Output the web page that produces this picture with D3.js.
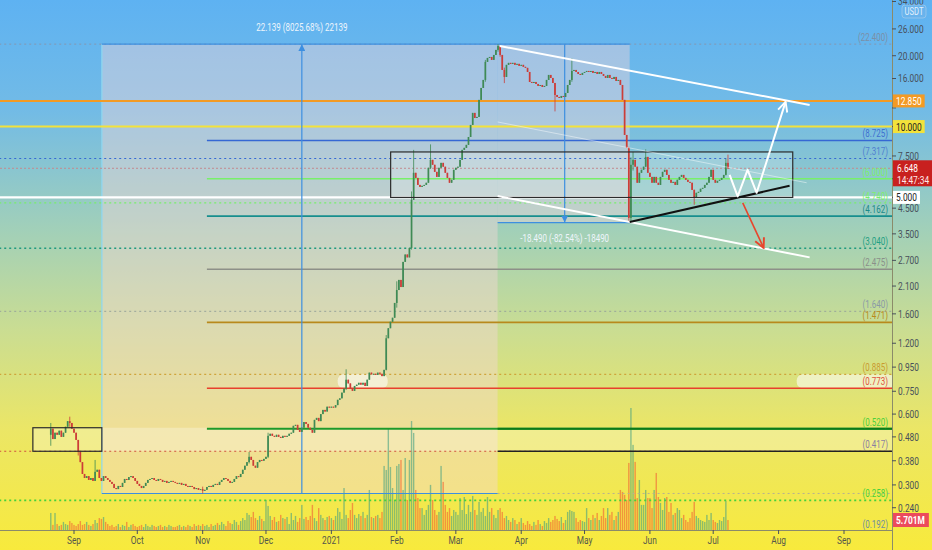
<!DOCTYPE html>
<html>
<head>
<meta charset="utf-8">
<script src="https://cdn.jsdelivr.net/npm/d3@7"></script>
<style>
  body { margin: 0; overflow: hidden; }
  svg { display: block; font-family: Roboto, "Liberation Sans", sans-serif; }
</style>
</head>
<body>
<svg></svg>
<script>
var width = 932, height = 550;
var plotRight = 892, plotBottom = 530;

// daily candles start on this day, open of the next candle = previous close
var startDay = new Date(2020, 7, 21);
var firstOpen = 0.49;
var closes = [
  // Aug 2020
  0.52,0.47,0.50,0.49,0.51,0.48,0.50,0.53,0.56,0.55,0.52,
  // Sep
  0.50,0.466,0.414,0.375,0.334,0.321,0.327,0.315,0.321,0.312,0.341,0.348,0.321,0.312,0.327,
  0.321,0.315,0.309,0.303,0.291,0.288,0.297,0.294,0.306,0.318,0.315,0.324,0.327,0.321,0.312,
  // Oct
  0.303,0.297,0.291,0.297,0.306,0.315,0.318,0.321,0.315,0.312,0.318,0.315,0.309,0.312,0.306,0.309,
  0.312,0.309,0.306,0.303,0.306,0.300,0.303,0.297,0.294,0.297,0.294,0.288,0.291,0.286,0.288,
  // Nov
  0.283,0.286,0.294,0.297,0.294,0.300,0.303,0.300,0.309,0.315,0.321,0.318,0.312,0.306,0.309,
  0.318,0.327,0.324,0.334,0.348,0.362,0.375,0.395,0.383,0.362,0.355,0.375,0.383,0.380,0.387,
  // Dec
  0.395,0.485,0.495,0.485,0.480,0.490,0.480,0.475,0.485,0.480,0.485,0.495,0.500,0.535,0.540,0.514,
  0.504,0.525,0.555,0.545,0.525,0.514,0.500,0.567,0.578,0.560,0.600,0.625,0.615,0.645,0.640,
  // Jan 2021
  0.645,0.640,0.655,0.690,0.700,0.740,0.770,0.840,0.810,0.770,0.753,0.790,0.800,0.815,0.800,0.815,
  0.790,0.840,0.900,0.885,0.890,0.880,0.900,0.890,0.870,0.925,1.26,1.39,1.48,1.54,1.78,
  // Feb
  2.02,2.23,2.08,2.66,2.86,2.78,3.05,4.88,6.36,6.05,5.65,5.54,5.60,5.65,5.77,6.68,7.22,6.88,6.42,
  6.11,6.68,7.01,6.75,6.36,6.05,5.77,5.94,6.55,
  // Mar
  6.68,6.75,7.22,7.96,8.12,8.36,9.03,10.16,11.43,10.88,10.99,12.98,14.59,15.78,18.83,19.57,19.76,
  19.20,20.15,21.17,22.00,20.15,17.40,16.25,18.29,18.65,18.47,18.65,18.29,18.47,18.11,
  // Apr
  18.29,17.94,17.76,17.06,15.47,15.32,15.47,15.17,14.88,15.02,14.73,14.88,15.78,16.57,16.09,15.32,
  13.62,13.36,13.23,13.49,13.36,13.89,15.02,15.78,17.23,17.40,17.06,16.73,16.57,16.90,
  // May
  17.06,17.23,17.06,17.23,16.90,17.06,16.73,17.06,16.73,16.41,16.09,16.57,16.09,15.93,16.25,15.62,
  15.78,15.02,12.98,9.21,8.12,4.09,6.88,7.22,6.75,5.77,6.36,6.55,6.75,7.43,6.36,
  // Jun
  6.11,5.77,6.11,5.77,5.65,6.11,6.42,6.55,6.23,5.94,5.77,5.82,5.65,5.94,6.11,6.23,6.05,5.94,5.82,
  5.77,5.38,4.97,5.23,5.28,5.44,5.49,5.65,5.77,6.11,6.55,
  // Jul
  5.94,5.77,5.88,5.94,6.05,6.23,7.01,6.648
];

// visible wicks: [day index, high, low]
var wicks = [
  [0,0.55,0.44],[9,0.585,0.53],[13,0.45,0.40],[21,0.383,0.33],[72,0.295,0.2759],[94,0.414,0.37],
  [103,0.50,0.39],[140,0.93,0.76],[159,1.30,0.92],[164,2.2,1.7],[171,5.3,3.0],[172,7.96,4.9],
  [180,8.4,6.6],[206,19.2,15.5],[212,22.4,20.8],[213,21.8,19.8],[215,17.8,15.3],[239,15.3,11.6],
  [247,19.5,15.5],[274,8.2,3.91],[275,7.4,3.95],[276,7.8,6.5],[282,8.0,6.9],[305,5.4,4.65],
  [320,7.3,6.2],[321,7.6,6.6]
];

// volume in millions
var volumes = [
  9.7,2.9,9.7,3.4,2.3,2.9,4.6,3.4,2.9,5.1,4.0,
  2.9,2.3,3.4,5.1,2.9,3.4,4.6,2.9,2.3,3.4,5.7,4.0,6.8,6.3,7.4,4.6,3.4,2.3,2.9,1.7,2.3,3.4,1.7,2.9,
  2.3,4.6,1.7,2.9,3.4,2.3,
  1.7,2.3,2.9,1.7,3.4,2.3,1.7,2.9,2.3,1.7,2.3,2.9,1.7,2.3,1.7,2.9,2.3,1.7,1.7,2.3,2.9,1.7,2.3,1.7,
  2.9,2.3,1.7,3.4,2.3,2.9,2.3,
  3.4,2.3,2.9,1.7,3.4,2.3,2.9,4.0,2.9,4.6,3.4,2.3,5.1,4.0,3.4,5.7,4.6,2.9,5.1,6.8,5.7,9.7,8.6,7.4,
  10.3,6.8,5.7,8.0,6.3,5.1,
  17.1,13.7,8.0,5.7,7.4,4.6,5.1,8.6,6.8,6.3,7.4,3.4,9.7,5.7,8.0,4.6,6.8,14.3,6.3,7.4,5.7,8.0,14.3,
  6.8,5.1,12.5,8.6,6.8,5.7,7.4,8.0,
  6.8,5.7,8.0,12.5,10.3,6.3,23.9,8.6,6.8,11.4,15.4,8.6,6.8,9.1,8.0,10.3,6.8,8.6,22.8,7.4,6.8,8.0,
  8.6,6.8,10.3,36.5,34.2,57.6,35.9,23.9,17.1,
  36.5,37.6,39.9,22.8,41.0,17.1,39.9,62.1,55.3,22.8,18.2,12.5,12.5,8.6,11.4,14.3,25.7,17.1,11.4,
  8.6,10.3,36.5,27.4,14.3,10.3,12.5,8.0,11.4,
  10.3,8.6,18.2,11.4,18.8,9.1,14.3,10.3,19.4,11.4,8.6,16.0,10.3,12.5,8.0,18.8,10.3,12.5,8.6,6.8,
  11.4,12.5,10.3,6.8,8.0,5.7,4.6,6.8,5.7,3.4,4.6,
  6.8,4.0,2.9,5.1,3.4,2.3,4.6,2.9,5.7,3.4,2.3,5.1,4.0,6.8,4.6,5.7,8.0,6.3,5.1,7.4,4.0,5.7,10.3,
  11.4,10.8,10.3,6.8,4.6,5.7,5.1,
  4.6,12.5,6.8,5.7,8.6,6.8,9.7,5.7,8.0,12.5,6.8,12.5,8.6,10.3,5.7,8.0,10.3,22.8,21.7,20.0,17.1,
  38.2,69.5,48.5,38.8,18.2,28.5,14.3,14.3,22.8,18.2,
  18.2,12.5,22.8,32.5,18.8,15.4,11.4,18.2,18.8,10.3,15.4,8.6,9.7,12.5,11.4,6.8,8.6,5.7,4.6,6.8,
  10.3,16.0,8.0,6.8,5.7,5.1,4.6,8.6,5.7,9.7,
  5.7,4.6,4.0,5.7,5.1,7.4,16.5,5.701
];

var monthLabels = ["Sep","Oct","Nov","Dec","2021","Feb","Mar","Apr","May","Jun","Jul","Aug","Sep"];
// labels hidden behind the price badges (12, 10, 6, 5) only get a tick mark
var priceTicks = [34, 26, 20, 16, 7.5, 4.5, 3.5, 2.7, 2.1, 1.6, 1.2, 0.95, 0.75, 0.6, 0.48, 0.38, 0.3, 0.24];
var hiddenTicks = [12, 10, 6, 5];

var fibLevels = [22.4, 8.725, 7.317, 6.0, 4.74, 4.162, 3.04, 2.475, 1.64, 1.471, 0.885, 0.773, 0.52, 0.417, 0.258, 0.192];
var fibLabels = ["(22.400)","(8.725)","(7.317)","(6.000)","(4.740)","(4.162)","(3.040)","(2.475)",
                 "(1.640)","(1.471)","(0.885)","(0.773)","(0.520)","(0.417)","(0.258)","(0.192)"];

var badgeValues = [12.85, 10.0, 5.0];
var badgeLabels = ["12.850", "10.000", "5.000"];
var lastPrice = 6.648, lastTime = "14:47:34";
var lastVolumeLabel = "5.701M";

// drawings, in day index / price
var rangeUpDays = [24.2, 119, 211.8], rangeUpPrices = [0.2759, 22.4];
var rangeUpText = "22.139 (8025.68%) 22139";
var rangeDownDays = [211.8, 243.6, 274.4], rangeDownPrices = [22.4, 3.91];
var rangeDownText = "-18.490 (-82.54%) -18490";
var boxDays = [161.1, 351.7], boxPrices = [7.8, 5.0];
var baseBoxDays = [-8.5, 24.2], basePrices = [0.525, 0.417];
var highlightDays = [[136, 159.7], [353.6, 400]], highlightPrices = [0.885, 0.773];
var channelUpper = [[212.8, 22.0], [359.7, 12.36]];
var channelLower = [[211.8, 5.07], [359.7, 2.78]];
var channelMid = [[211.8, 10.46], [358.3, 5.77]];
var supportLine = [[274.4, 3.93], [350.2, 5.6]];
var bullPath = [[321.8, 6.23], [325.6, 5.05], [330.3, 6.55], [334.6, 5.23], [348.3, 12.73]];
var bearPath = [[328, 4.74], [337.9, 3.05]];

/////////////
// scales
/////////////
var x = d3.scaleTime()
    .domain([new Date(2020, 8, 1), new Date(2021, 8, 1)])
    .range([74, 844]);
var y = d3.scaleLog()
    .domain([0.193, 34.5])
    .range([plotBottom, 0]);
var yVol = d3.scaleLinear()
    .domain([0, 69.5])
    .range([plotBottom, 408]);

function dayDate(i) { return new Date(startDay.getTime() + i * 864e5); }
function dx(i) { return x(dayDate(i)); }
function pt(p) { return [dx(p[0]), y(p[1])]; }

var candles = closes.map(function(c, i) {
  var o = i === 0 ? firstOpen : closes[i - 1];
  return {i: i, o: o, c: c, h: Math.max(o, c), l: Math.min(o, c), v: volumes[i]};
});
wicks.forEach(function(w) {
  candles[w[0]].h = Math.max(candles[w[0]].h, w[1]);
  candles[w[0]].l = Math.min(candles[w[0]].l, w[2]);
});

var svg = d3.select("svg")
    .attr("width", width)
    .attr("height", height);

// the chart's font is a narrow one, so text is squeezed horizontally
var squeeze = 0.76;
function label(parent, px, py, str, size, fill, anchor) {
  return parent.append("text")
      .attr("transform", "translate(" + px + "," + py + ") scale(" + squeeze + ",1)")
      .attr("text-anchor", anchor || "start")
      .attr("font-size", size)
      .attr("fill", fill)
      .text(str);
}

var defs = svg.append("defs");
var grad = defs.append("linearGradient")
    .attr("id", "bg").attr("x1", 0).attr("y1", 0).attr("x2", 0).attr("y2", 1);
[[0, "#5eb2f2"], [0.2, "#72bbe6"], [0.42, "#a2d0b8"], [0.6, "#cadd92"], [0.78, "#ebe666"], [1, "#f8ea3c"]]
  .forEach(function(s) { grad.append("stop").attr("offset", s[0]).attr("stop-color", s[1]); });

defs.append("clipPath").attr("id", "plot")
  .append("rect").attr("x", 0).attr("y", 0).attr("width", plotRight).attr("height", plotBottom);

function addArrow(id, color, filled) {
  defs.append("marker")
      .attr("id", id)
      .attr("viewBox", "0 0 10 10")
      .attr("refX", filled ? 10 : 9).attr("refY", 5)
      .attr("markerWidth", filled ? 7 : 12).attr("markerHeight", filled ? 7 : 12)
      .attr("markerUnits", "userSpaceOnUse")
      .attr("orient", "auto")
    .append("path")
      .attr("d", filled ? "M0,0 L10,5 L0,10 Z" : "M1,1 L9,5 L1,9")
      .attr("fill", filled ? color : "none")
      .attr("stroke", color)
      .attr("stroke-width", filled ? 0 : 1.6);
}
addArrow("arrWhite", "#ffffff", false);
addArrow("arrRed", "#e8452c", false);
addArrow("arrBlue", "#3d8fe0", true);

svg.append("rect").attr("width", width).attr("height", height).attr("fill", "url(#bg)");

var plot = svg.append("g").attr("clip-path", "url(#plot)");

/////////////
// shaded zones
/////////////
var rangeFill = "rgba(245,214,216,0.42)";
plot.append("rect")
    .attr("x", dx(rangeUpDays[0])).attr("y", y(rangeUpPrices[1]))
    .attr("width", dx(rangeUpDays[2]) - dx(rangeUpDays[0]))
    .attr("height", y(rangeUpPrices[0]) - y(rangeUpPrices[1]))
    .attr("fill", rangeFill);
plot.append("rect")
    .attr("x", dx(rangeDownDays[0])).attr("y", y(rangeDownPrices[0]))
    .attr("width", dx(rangeDownDays[2]) - dx(rangeDownDays[0]))
    .attr("height", y(rangeDownPrices[1]) - y(rangeDownPrices[0]))
    .attr("fill", rangeFill);
plot.append("line")
    .attr("x1", dx(rangeUpDays[0])).attr("x2", dx(rangeUpDays[0]))
    .attr("y1", y(rangeUpPrices[1])).attr("y2", y(rangeUpPrices[0]))
    .attr("stroke", "rgba(140,215,240,0.8)").attr("stroke-width", 1.5);

// base zone band
plot.append("rect")
    .attr("x", dx(baseBoxDays[0])).attr("y", y(basePrices[0]))
    .attr("width", plotRight - dx(baseBoxDays[0]))
    .attr("height", y(basePrices[1]) - y(basePrices[0]))
    .attr("fill", "rgba(255,255,255,0.28)");

highlightDays.forEach(function(d) {
  plot.append("rect")
      .attr("x", dx(d[0])).attr("y", y(highlightPrices[0]))
      .attr("width", dx(d[1]) - dx(d[0]))
      .attr("height", y(highlightPrices[1]) - y(highlightPrices[0]))
      .attr("rx", 6)
      .attr("fill", "rgba(255,255,255,0.55)");
});

// consolidation box fill
plot.append("rect")
    .attr("x", dx(boxDays[0])).attr("y", y(boxPrices[0]))
    .attr("width", dx(boxDays[1]) - dx(boxDays[0]))
    .attr("height", y(boxPrices[1]) - y(boxPrices[0]))
    .attr("fill", "rgba(255,255,255,0.2)");

/////////////
// volume
/////////////
plot.selectAll("rect.vol")
    .data(candles)
    .enter().append("rect")
    .attr("class", "vol")
    .attr("x", function(d) { return dx(d.i) - 0.7; })
    .attr("y", function(d) { return yVol(d.v); })
    .attr("width", 1.4)
    .attr("height", function(d) { return plotBottom - yVol(d.v); })
    .attr("fill", function(d) { return d.c >= d.o ? "rgba(70,160,130,0.6)" : "rgba(240,105,55,0.65)"; });

/////////////
// horizontal levels
/////////////
var fibStyles = [
  {c: "#8597b0", d: "2,3", w: 1, from: -60},
  {c: "#3568d4", w: 1.6, from: 74},
  {c: "#3568d4", d: "2,3", w: 1.2, from: -60},
  {c: "#78f06a", w: 1.6, from: 74},
  {c: "#78f06a", d: "2,3", w: 1.4, from: -60},
  {c: "#168e8e", w: 1.6, from: 74},
  {c: "#1f9a80", d: "2,3", w: 1.4, from: -60},
  {c: "#8d9088", w: 1.6, from: 74},
  {c: "#98a49a", d: "2,3", w: 1, from: -60},
  {c: "#b8891c", w: 1.8, from: 74},
  {c: "#cfa43a", d: "2,3", w: 1.2, from: -60},
  {c: "#e8402c", w: 1.6, from: 74},
  {c: "#1f9a2a", w: 2, from: 74},
  {c: "#d0503f", d: "2,3", w: 1.2, from: -60},
  {c: "#46d23a", d: "2,3", w: 1.6, from: -60},
  {c: "#6f8fa0", w: 0, from: -60}
];
var labelColors = ["#7b8fa8","#3f6fd0","#4f7fd0","#7cf06a","#7cf06a","#1a8a8a","#22a083","#8a8f8a",
                   "#8a9aa6","#b8891c","#c99a30","#e0503a","#4ccf3c","#8a80a0","#46d23a","#6f8fa0"];

fibLevels.forEach(function(v, k) {
  var s = fibStyles[k];
  if (s.w > 0) {
    plot.append("line")
        .attr("x1", dx(s.from)).attr("x2", plotRight)
        .attr("y1", y(v)).attr("y2", y(v))
        .attr("stroke", s.c).attr("stroke-width", s.w)
        .attr("stroke-dasharray", s.d || null);
  }
});

// dark edges of the base zone after the top
plot.append("line")
    .attr("x1", dx(rangeUpDays[2])).attr("x2", plotRight)
    .attr("y1", y(0.417)).attr("y2", y(0.417))
    .attr("stroke", "#222").attr("stroke-width", 1.4);
plot.append("line")
    .attr("x1", dx(rangeUpDays[2])).attr("x2", plotRight)
    .attr("y1", y(0.52)).attr("y2", y(0.52))
    .attr("stroke", "#0c7a18").attr("stroke-width", 2);

// measured low extension
plot.append("line")
    .attr("x1", dx(rangeUpDays[2])).attr("x2", plotRight)
    .attr("y1", y(rangeUpPrices[0])).attr("y2", y(rangeUpPrices[0]))
    .attr("stroke", "#b8b090").attr("stroke-width", 1).attr("stroke-dasharray", "2,3");

[[12.85, "#f39a24", 2], [10.0, "#f3e23a", 2], [5.0, "#ffffff", 2.2]].forEach(function(l) {
  plot.append("line")
      .attr("x1", 0).attr("x2", plotRight)
      .attr("y1", y(l[0])).attr("y2", y(l[0]))
      .attr("stroke", l[1]).attr("stroke-width", l[2]);
});

// last price line
plot.append("line")
    .attr("x1", 0).attr("x2", plotRight)
    .attr("y1", y(lastPrice)).attr("y2", y(lastPrice))
    .attr("stroke", "#c28a90").attr("stroke-width", 1).attr("stroke-dasharray", "2,2");

/////////////
// price range tools
/////////////
var blue = "#3d8fe0";
function hline(d0, d1, p) {
  plot.append("line").attr("x1", dx(d0)).attr("x2", dx(d1)).attr("y1", y(p)).attr("y2", y(p))
      .attr("stroke", blue).attr("stroke-width", 1.2);
}
hline(rangeUpDays[0], rangeDownDays[2], rangeUpPrices[1]);
hline(rangeUpDays[0], rangeUpDays[2], rangeUpPrices[0]);
hline(rangeDownDays[0], rangeDownDays[2], rangeDownPrices[1]);
plot.append("line")
    .attr("x1", dx(rangeUpDays[1])).attr("x2", dx(rangeUpDays[1]))
    .attr("y1", y(rangeUpPrices[0])).attr("y2", y(rangeUpPrices[1]))
    .attr("stroke", blue).attr("stroke-width", 1.2).attr("marker-end", "url(#arrBlue)");
plot.append("line")
    .attr("x1", dx(rangeDownDays[1])).attr("x2", dx(rangeDownDays[1]))
    .attr("y1", y(rangeDownPrices[0])).attr("y2", y(rangeDownPrices[1]))
    .attr("stroke", blue).attr("stroke-width", 1.2).attr("marker-end", "url(#arrBlue)");

label(svg, dx(rangeUpDays[1]), y(rangeUpPrices[1]) - 13, rangeUpText, 10.5, "#eef5fc", "middle");
label(svg, dx(rangeDownDays[1]), y(rangeDownPrices[1]) + 19, rangeDownText, 10.5, "#eef5fc", "middle");

/////////////
// candles
/////////////
var up = "#3f8a55", down = "#cc3d38";
var cg = plot.selectAll("g.candle")
    .data(candles)
    .enter().append("g")
    .attr("class", "candle");
cg.append("line")
    .attr("x1", function(d) { return dx(d.i); })
    .attr("x2", function(d) { return dx(d.i); })
    .attr("y1", function(d) { return y(d.h); })
    .attr("y2", function(d) { return y(d.l); })
    .attr("stroke", function(d) { return d.c >= d.o ? up : down; })
    .attr("stroke-width", 0.8);
cg.append("rect")
    .attr("x", function(d) { return dx(d.i) - 0.85; })
    .attr("y", function(d) { return y(Math.max(d.o, d.c)); })
    .attr("width", 1.7)
    .attr("height", function(d) { return Math.max(1, y(Math.min(d.o, d.c)) - y(Math.max(d.o, d.c))); })
    .attr("fill", function(d) { return d.c >= d.o ? up : down; });

/////////////
// boxes and pattern lines
/////////////
plot.append("rect")
    .attr("x", dx(boxDays[0])).attr("y", y(boxPrices[0]))
    .attr("width", dx(boxDays[1]) - dx(boxDays[0]))
    .attr("height", y(boxPrices[1]) - y(boxPrices[0]))
    .attr("fill", "none").attr("stroke", "#2b2b2b").attr("stroke-width", 1.2);
plot.append("rect")
    .attr("x", dx(baseBoxDays[0])).attr("y", y(basePrices[0]))
    .attr("width", dx(baseBoxDays[1]) - dx(baseBoxDays[0]))
    .attr("height", y(basePrices[1]) - y(basePrices[0]))
    .attr("fill", "none").attr("stroke", "#2b2b2b").attr("stroke-width", 1.2);

var line = d3.line();
function drawPath(points, color, w, opacity, marker) {
  plot.append("path")
      .attr("d", line(points.map(pt)))
      .attr("fill", "none")
      .attr("stroke", color)
      .attr("stroke-width", w)
      .attr("stroke-opacity", opacity)
      .attr("stroke-linejoin", "round")
      .attr("marker-end", marker ? "url(#" + marker + ")" : null);
}
drawPath(channelMid, "#ffffff", 1, 0.45);
drawPath(channelUpper, "#ffffff", 2, 1);
drawPath(channelLower, "#ffffff", 2, 1);
drawPath(supportLine, "#111111", 2, 1);
drawPath(bullPath, "#ffffff", 2, 1, "arrWhite");
drawPath(bearPath, "#e8452c", 1.6, 1, "arrRed");

/////////////
// level labels
/////////////
fibLevels.forEach(function(v, k) {
  label(svg, 888, y(v) - 3, fibLabels[k], 10.5, labelColors[k], "end");
});

/////////////
// axes
/////////////
var axisColor = "#8b8b6a", textColor = "#48505a";
svg.append("line")
    .attr("x1", plotRight + 0.5).attr("x2", plotRight + 0.5).attr("y1", 0).attr("y2", height)
    .attr("stroke", axisColor).attr("stroke-width", 1);
svg.append("line")
    .attr("x1", 0).attr("x2", plotRight).attr("y1", plotBottom + 0.5).attr("y2", plotBottom + 0.5)
    .attr("stroke", axisColor).attr("stroke-width", 1);

var yAxis = svg.append("g");
priceTicks.concat(hiddenTicks).forEach(function(v) {
  yAxis.append("line")
      .attr("x1", plotRight).attr("x2", plotRight + 4)
      .attr("y1", y(v)).attr("y2", y(v))
      .attr("stroke", textColor);
});
priceTicks.forEach(function(v) {
  label(yAxis, plotRight + 6, y(v) + 3.8, d3.format(".3f")(v), 11, textColor);
});

var months = d3.timeMonth.range(new Date(2020, 8, 1), new Date(2021, 8, 2));
months.forEach(function(m, k) {
  svg.append("line")
      .attr("x1", x(m)).attr("x2", x(m)).attr("y1", plotBottom).attr("y2", plotBottom + 4)
      .attr("stroke", textColor);
  label(svg, x(m), plotBottom + 14, monthLabels[k], 11, "#55574a", "middle");
});

// price badges on the axis
function badge(py, h, fill) {
  return svg.append("rect")
      .attr("x", plotRight + 1).attr("y", py - h / 2)
      .attr("height", h)
      .attr("fill", fill);
}
var badgeFill = ["#f39a24", "#f3e23a", "#ffffff"];
var badgeText = ["#ffffff", "#222222", "#222222"];
badgeValues.forEach(function(v, k) {
  var r = badge(y(v), 13, badgeFill[k]);
  var t = label(svg, plotRight + 4, y(v) + 4, badgeLabels[k], 11, badgeText[k]);
  r.attr("width", t.node().getComputedTextLength() * squeeze + 6);
});

var lastBox = svg.append("rect")
    .attr("x", plotRight + 1).attr("y", y(lastPrice) - 8)
    .attr("height", 26)
    .attr("fill", "#c8201f");
label(svg, plotRight + 5, y(lastPrice) + 3.8, d3.format(".3f")(lastPrice), 11, "#ffffff");
var tt = label(svg, plotRight + 5, y(lastPrice) + 15.5, lastTime, 11, "#ffe8e8");
lastBox.attr("width", tt.node().getComputedTextLength() * squeeze + 8);

var volY = yVol(volumes[volumes.length - 1]);
var volBox = svg.append("rect")
    .attr("x", plotRight + 1).attr("y", volY - 7)
    .attr("height", 14)
    .attr("fill", "#ec4a5c");
var vt = label(svg, plotRight + 4, volY + 4, lastVolumeLabel, 11, "#ffffff").attr("font-weight", "bold");
volBox.attr("width", vt.node().getComputedTextLength() * squeeze + 7);

// currency tag
svg.append("rect")
    .attr("x", 902).attr("y", 5).attr("width", 24).attr("height", 13).attr("rx", 3)
    .attr("fill", "rgba(120,180,230,0.35)").attr("stroke", "#9cc8ec").attr("stroke-width", 0.8);
label(svg, 914, 15, "USDT", 10, "#e2f0fb", "middle");
</script>
</body>
</html>
